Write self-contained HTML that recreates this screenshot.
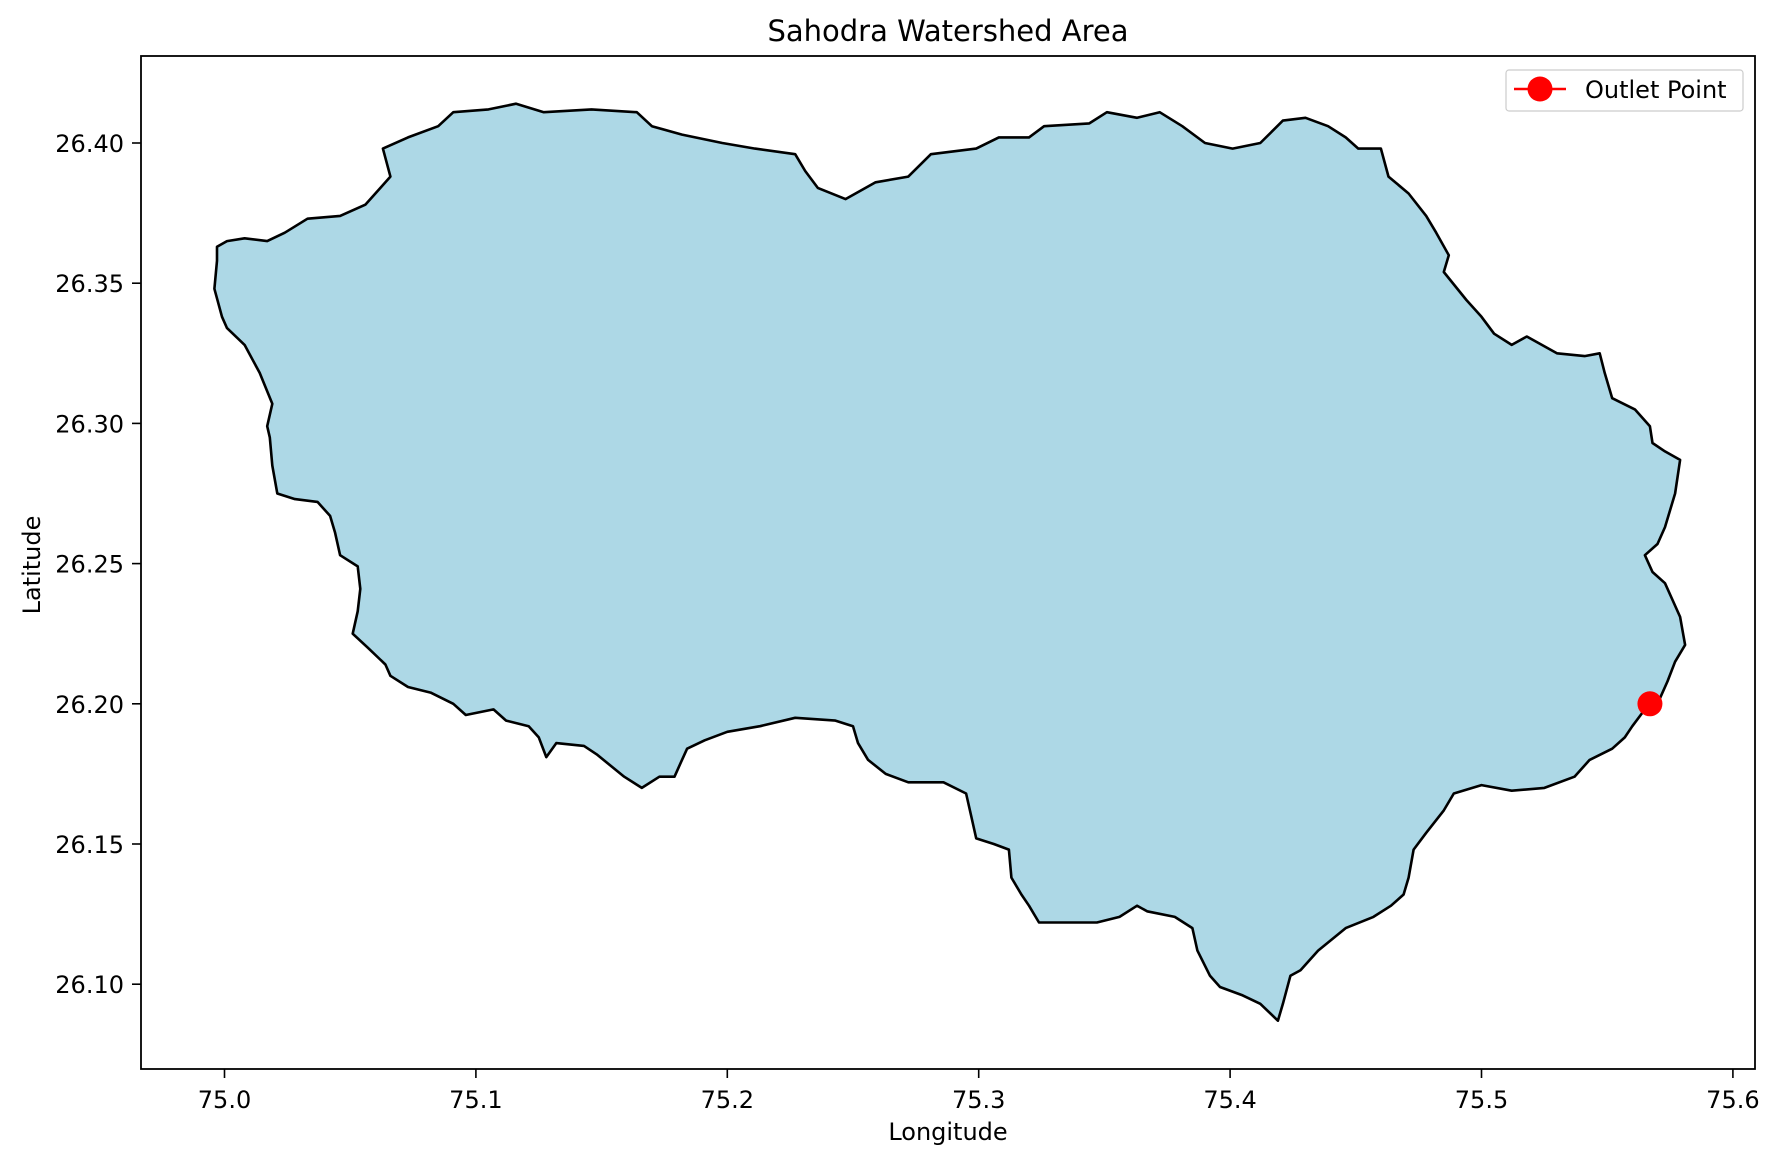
<!DOCTYPE html>
<html><head><meta charset="utf-8"><style>
html,body{margin:0;padding:0;background:#fff;}
svg{display:block;font-family:"DejaVu Sans","Liberation Sans",sans-serif;}
</style></head><body>
<svg id="chart" width="1778" height="1162">
<text x="948" y="41" font-size="29" text-anchor="middle">Sahodra Watershed Area</text>
<g id="plot"></g>
<rect x="141" y="56" width="1614" height="1013" fill="none" stroke="#000" stroke-width="1.8"/>
<text x="948" y="1140" font-size="24" text-anchor="middle">Longitude</text>
<text x="0" y="0" font-size="24" text-anchor="middle" transform="translate(40,565) rotate(-90)">Latitude</text>
<g>
<rect x="1506" y="70" width="237" height="41" rx="3" fill="#fff" stroke="#ccc" stroke-width="1.2"/>
<line x1="1514" y1="89" x2="1566" y2="89" stroke="red" stroke-width="2.5"/>
<circle cx="1540" cy="89" r="12.5" fill="red"/>
<text x="1585" y="98" font-size="24">Outlet Point</text>
</g>
</svg>
<script>
const lons=[74.997,75.001,75.008,75.017,75.024,75.033,75.046,75.056,75.062,75.066,75.063,75.073,75.085,75.091,75.105,75.116,75.127,75.146,75.164,75.170,75.182,75.198,75.211,75.227,75.231,75.236,75.247,75.259,75.272,75.281,75.299,75.308,75.320,75.326,75.344,75.351,75.363,75.372,75.381,75.390,75.401,75.412,75.421,75.430,75.439,75.446,75.451,75.460,75.463,75.471,75.478,75.482,75.487,75.485,75.494,75.500,75.505,75.512,75.518,75.530,75.541,75.547,75.549,75.552,75.561,75.567,75.568,75.573,75.579,75.577,75.573,75.570,75.565,75.568,75.573,75.576,75.579,75.581,75.577,75.574,75.570,75.565,75.560,75.557,75.552,75.543,75.537,75.525,75.512,75.500,75.489,75.485,75.478,75.473,75.471,75.469,75.464,75.457,75.446,75.435,75.428,75.424,75.421,75.419,75.412,75.405,75.396,75.392,75.387,75.385,75.378,75.367,75.363,75.356,75.347,75.335,75.324,75.320,75.317,75.313,75.312,75.306,75.299,75.297,75.295,75.286,75.272,75.263,75.256,75.252,75.250,75.243,75.227,75.213,75.200,75.191,75.184,75.182,75.179,75.173,75.166,75.159,75.148,75.143,75.132,75.128,75.125,75.121,75.112,75.107,75.096,75.091,75.082,75.073,75.066,75.064,75.057,75.051,75.053,75.054,75.053,75.046,75.044,75.042,75.037,75.028,75.021,75.019,75.018,75.017,75.019,75.014,75.008,75.001,74.999,74.996,74.997];
const lats=[26.363,26.365,26.366,26.365,26.368,26.373,26.374,26.378,26.384,26.388,26.398,26.402,26.406,26.411,26.412,26.414,26.411,26.412,26.411,26.406,26.403,26.400,26.398,26.396,26.390,26.384,26.380,26.386,26.388,26.396,26.398,26.402,26.402,26.406,26.407,26.411,26.409,26.411,26.406,26.400,26.398,26.400,26.408,26.409,26.406,26.402,26.398,26.398,26.388,26.382,26.374,26.368,26.360,26.354,26.344,26.338,26.332,26.328,26.331,26.325,26.324,26.325,26.318,26.309,26.305,26.299,26.293,26.290,26.287,26.275,26.263,26.257,26.253,26.247,26.243,26.237,26.231,26.221,26.215,26.208,26.200,26.198,26.192,26.188,26.184,26.180,26.174,26.170,26.169,26.171,26.168,26.162,26.154,26.148,26.138,26.132,26.128,26.124,26.120,26.112,26.105,26.103,26.093,26.087,26.093,26.096,26.099,26.103,26.112,26.120,26.124,26.126,26.128,26.124,26.122,26.122,26.122,26.128,26.132,26.138,26.148,26.150,26.152,26.160,26.168,26.172,26.172,26.175,26.180,26.186,26.192,26.194,26.195,26.192,26.190,26.187,26.184,26.180,26.174,26.174,26.170,26.174,26.182,26.185,26.186,26.181,26.188,26.192,26.194,26.198,26.196,26.200,26.204,26.206,26.210,26.214,26.220,26.225,26.233,26.241,26.249,26.253,26.261,26.267,26.272,26.273,26.275,26.285,26.295,26.299,26.307,26.318,26.328,26.334,26.338,26.348,26.358];
const outletLon=[75.567];
const outletLat=[26.200];
const xTicks=[75.0,75.1,75.2,75.3,75.4,75.5,75.6];
const xTickLabels=["75.0","75.1","75.2","75.3","75.4","75.5","75.6"];
const yTicks=[26.10,26.15,26.20,26.25,26.30,26.35,26.40];
const yTickLabels=["26.10","26.15","26.20","26.25","26.30","26.35","26.40"];

const NS="http://www.w3.org/2000/svg";
function xs(v){return 224.5+(v-75.0)*2514;}
function ys(v){return 143+(26.40-v)*2804;}
const plot=document.getElementById('plot');
const svg=document.getElementById('chart');

const poly=document.createElementNS(NS,'polygon');
poly.setAttribute('points',lons.map((l,i)=>xs(l).toFixed(1)+','+ys(lats[i]).toFixed(1)).join(' '));
poly.setAttribute('fill','#add8e6');
poly.setAttribute('stroke','#000');
poly.setAttribute('stroke-width','2.6');
poly.setAttribute('stroke-linejoin','round');


plot.appendChild(poly);

outletLon.forEach((l,i)=>{
  const c=document.createElementNS(NS,'circle');
  c.setAttribute('cx',xs(l));c.setAttribute('cy',ys(outletLat[i]));c.setAttribute('r','12.5');c.setAttribute('fill','red');
  
  
  plot.appendChild(c);
});

xTicks.forEach((t,i)=>{
  const x=xs(t);
  const ln=document.createElementNS(NS,'line');
  ln.setAttribute('x1',x);ln.setAttribute('x2',x);ln.setAttribute('y1',1069);ln.setAttribute('y2',1078);ln.setAttribute('stroke','#000');ln.setAttribute('stroke-width','1.6');
  
  
  svg.appendChild(ln);
  const tx=document.createElementNS(NS,'text');
  tx.setAttribute('x',x);tx.setAttribute('y',1108);tx.setAttribute('font-size','24');tx.setAttribute('text-anchor','middle');
  tx.textContent=xTickLabels[i];
  
  
  svg.appendChild(tx);
});
yTicks.forEach((t,i)=>{
  const y=ys(t);
  const ln=document.createElementNS(NS,'line');
  ln.setAttribute('x1',132);ln.setAttribute('x2',141);ln.setAttribute('y1',y);ln.setAttribute('y2',y);ln.setAttribute('stroke','#000');ln.setAttribute('stroke-width','1.6');
  
  
  svg.appendChild(ln);
  const tx=document.createElementNS(NS,'text');
  tx.setAttribute('x',124);tx.setAttribute('y',y+9);tx.setAttribute('font-size','24');tx.setAttribute('text-anchor','end');
  tx.textContent=yTickLabels[i];
  
  
  svg.appendChild(tx);
});
</script>
</body></html>
